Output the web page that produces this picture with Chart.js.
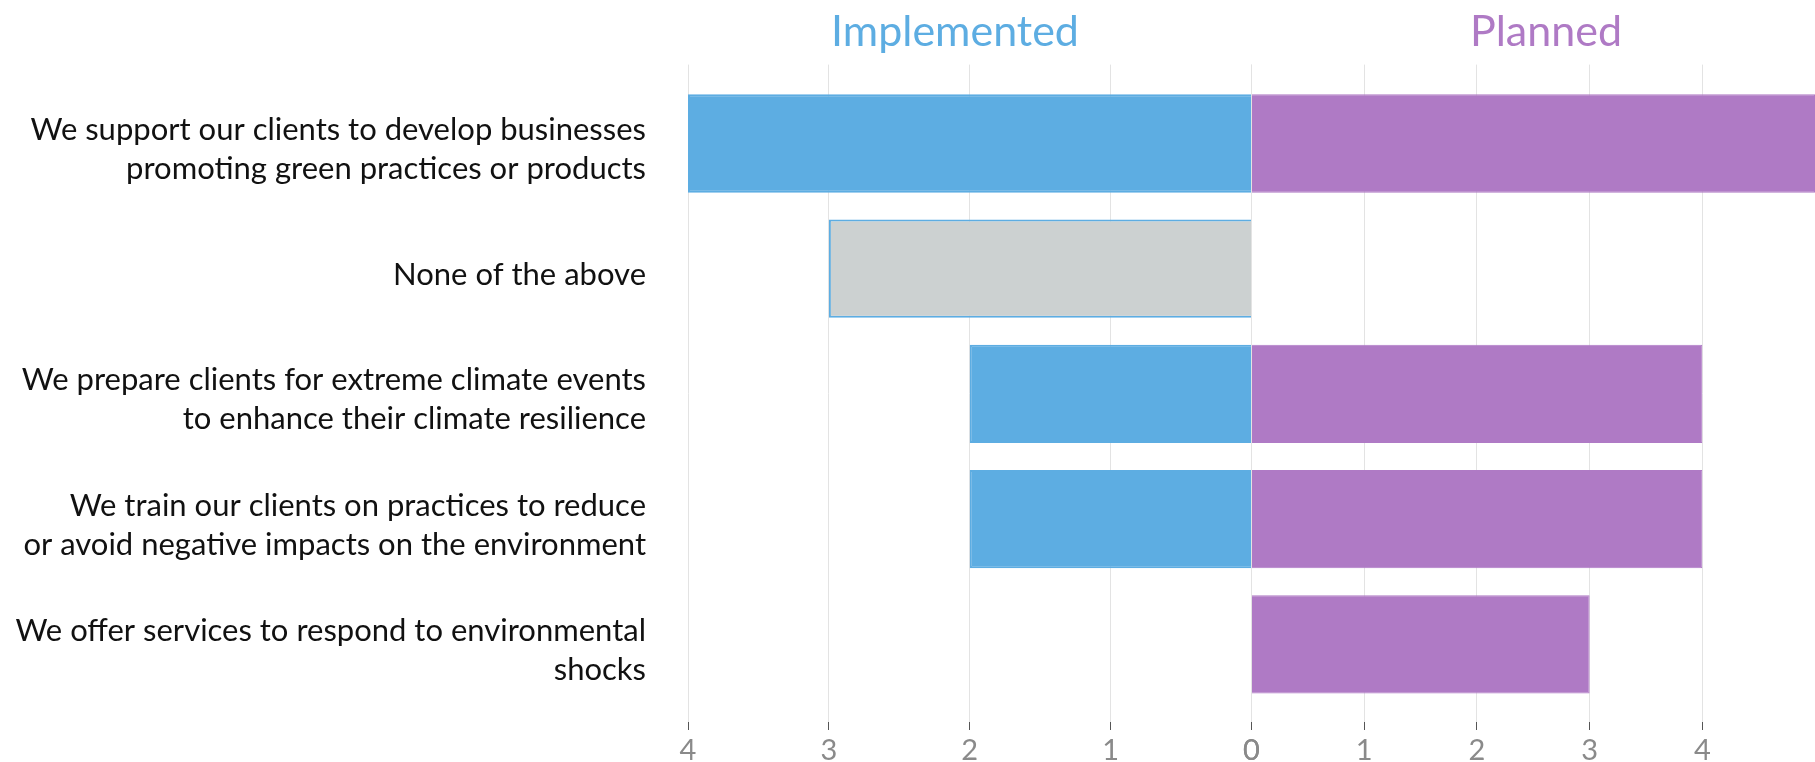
<!DOCTYPE html>
<html>
<head>
<meta charset="utf-8">
<script src="https://cdn.jsdelivr.net/npm/chart.js@4"></script>
<style>
    html, body { margin: 0; padding: 0; background: #fff; }
    #wrap { width: 1815px; height: 762px; position: relative; }
</style>
</head>
<body>
<div id="wrap"><canvas id="actionsChart"></canvas></div>
<script>
// Chart data
const categories = [
    ['We support our clients to develop businesses', 'promoting green practices or products'],
    ['None of the above'],
    ['We prepare clients for extreme climate events', 'to enhance their climate resilience'],
    ['We train our clients on practices to reduce', 'or avoid negative impacts on the environment'],
    ['We offer services to respond to environmental', 'shocks']
];
const implemented = [4, 3, 2, 2, 0];
const planned = [5, 0, 4, 4, 3];
const implementedTicks = [0, 1, 2, 3, 4];
const plannedTicks = [0, 1, 2, 3, 4];

const BLUE = '#5DADE2';
const PURPLE = '#AF7AC5';
const GREY = '#CCD1D1';
const FONT = 'Lato, "Open Sans", sans-serif';

document.addEventListener('DOMContentLoaded', function() {
    try {
        const ctx = document.getElementById('actionsChart').getContext('2d');

        const barColours = categories.map(c => c[0] === 'None of the above' ? GREY : BLUE);

        const bottomAxis = function(reverse, max, tickValues) {
            return {
                type: 'linear',
                position: 'bottom',
                stack: 'bottom',
                stackWeight: 1,
                reverse: reverse,
                min: 0,
                max: max,
                afterBuildTicks: function(scale) {
                    scale.ticks = tickValues.map(v => ({ value: v }));
                },
                afterFit: function(scale) {
                    scale.height = 40;
                },
                grid: {
                    color: '#e3e3e3',
                    lineWidth: 1,
                    drawTicks: true,
                    tickLength: 8,
                    tickColor: '#555'
                },
                border: { display: false },
                ticks: {
                    color: '#8a8a8a',
                    padding: 6,
                    font: { family: FONT, size: 29, lineHeight: 1 }
                }
            };
        };

        // header boxes above the plot (top boxes are laid out right-to-left in definition order)
        const topAxis = function(text, colour, weight) {
            return {
                type: 'linear',
                position: 'top',
                stack: 'top',
                stackWeight: weight,
                min: 0,
                max: 1,
                grid: { display: false, drawTicks: false },
                border: { display: false },
                ticks: { display: false },
                title: {
                    display: text !== '',
                    text: text,
                    color: colour,
                    font: { family: FONT, size: 43, lineHeight: 1.2 },
                    padding: { top: 6, bottom: 7 }
                }
            };
        };

        new Chart(ctx, {
            type: 'bar',
            data: {
                datasets: [{
                    label: 'Implemented',
                    data: implemented.map((v, i) => ({ x: v, y: i })),
                    xAxisID: 'xL',
                    backgroundColor: barColours,
                    borderColor: BLUE,
                    borderWidth: 2,
                    borderSkipped: 'start',
                    grouped: false,
                    categoryPercentage: 1,
                    barPercentage: 0.785
                }, {
                    label: 'Planned',
                    data: planned.map((v, i) => ({ x: v, y: i })),
                    xAxisID: 'xR',
                    backgroundColor: PURPLE,
                    borderColor: PURPLE,
                    borderWidth: 1,
                    borderSkipped: 'start',
                    grouped: false,
                    categoryPercentage: 1,
                    barPercentage: 0.785
                }]
            },
            options: {
                indexAxis: 'y',
                responsive: true,
                maintainAspectRatio: false,
                animation: false,
                layout: { padding: 0 },
                plugins: {
                    legend: { display: false },
                    tooltip: { enabled: false }
                },
                scales: {
                    xL: bottomAxis(true, 4, implementedTicks),
                    xR: bottomAxis(false, 5, plannedTicks),
                    tR: topAxis('Planned', PURPLE, 538),
                    tGap: topAxis('', PURPLE, 55),
                    tL: topAxis('Implemented', BLUE, 534),
                    y: {
                        type: 'linear',
                        position: 'left',
                        reverse: true,
                        offset: false,
                        min: -0.63,
                        max: 4.62,
                        afterBuildTicks: function(scale) {
                            scale.ticks = categories.map((c, i) => ({ value: i }));
                        },
                        afterFit: function(scale) {
                            scale.width = 688;
                            scale.paddingTop = 0;
                            scale.paddingBottom = 0;
                        },
                        grid: { display: false, drawTicks: false },
                        border: { display: false },
                        ticks: {
                            color: '#111',
                            padding: 42,
                            labelOffset: 6,
                            autoSkip: false,
                            font: { family: FONT, size: 31, lineHeight: 1.26 },
                            callback: function(value) {
                                return categories[value] || '';
                            }
                        }
                    }
                }
            }
        });
    } catch (error) {
        console.error('Error initializing chart:', error);
    }
});
</script>
</body>
</html>
